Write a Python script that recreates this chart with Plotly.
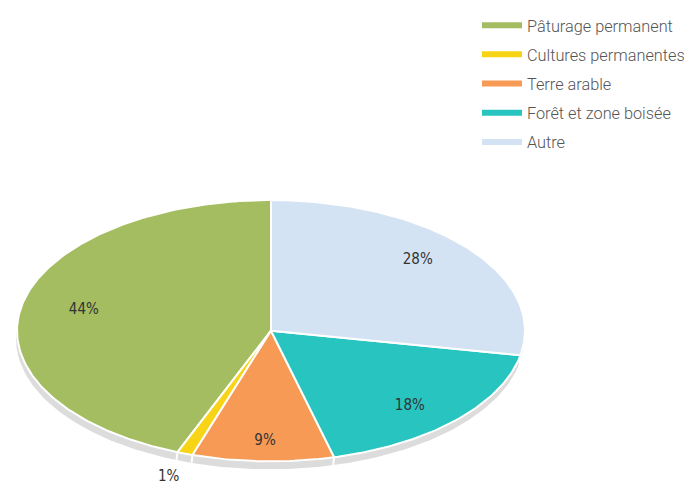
import numpy as np
import plotly.graph_objects as go

# ---- data ----
labels = ["Pâturage permanent", "Cultures permanentes", "Terre arable",
          "Forêt et zone boisée", "Autre"]
values = [44, 1, 9, 18, 28]
colors = ["#a4bd60", "#f7d516", "#f79a55", "#28c4c0", "#d4e3f3"]
text_labels = ["44%", "1%", "9%", "18%", "28%"]

# ---- geometry (pixel space of the window) ----
W, H = 692, 488
OFF = 8  # page body margin
CX, CY = 271, 329
RX, RY = 254, 132
DEPTH = 8
SHADOW = "#dcdcdc"
LBL_RX, LBL_RY = 0.75, 0.85   # inside label radius factors
LBL_OUT = 1.19                # outside label radius for tiny slices

total = float(sum(values))
fracs = np.cumsum([0] + values) / total


def pt(frac, r=1.0, cx=CX, cy=CY, ry=None):
    ry = r if ry is None else ry
    phi = np.pi / 2 + frac * 2 * np.pi  # counter-clockwise from top
    return cx + r * RX * np.cos(phi), cy - ry * RY * np.sin(phi)


fig = go.Figure()

# shadow / thickness
t = np.linspace(0, 1, 361)
sx, sy = pt(t, 1.0, CX - 1, CY + DEPTH)
fig.add_trace(go.Scatter(x=sx, y=sy, fill="toself", mode="lines",
                         line=dict(color=SHADOW, width=0), fillcolor=SHADOW,
                         showlegend=False, hoverinfo="skip"))
# white separators in the thickness
for f in fracs[1:-1]:
    bx, by = pt(f)
    if by > CY:
        fig.add_trace(go.Scatter(x=[bx, bx - 1], y=[by, by + DEPTH], mode="lines",
                                 line=dict(color="white", width=2),
                                 showlegend=False, hoverinfo="skip"))

# slices
for i, (lab, col) in enumerate(zip(labels, colors)):
    a0, a1 = fracs[i], fracs[i + 1]
    n = max(int((a1 - a0) * 400), 4)
    tt = np.linspace(a0, a1, n)
    ex, ey = pt(tt)
    xs = np.concatenate([[CX], ex, [CX]])
    ys = np.concatenate([[CY], ey, [CY]])
    fig.add_trace(go.Scatter(x=xs, y=ys, fill="toself", mode="lines",
                             line=dict(color="white", width=2), fillcolor=col,
                             name=lab, showlegend=False, legendgroup=lab,
                             hoverinfo="name"))

# slice labels
for i, txt in enumerate(text_labels):
    mid = (fracs[i] + fracs[i + 1]) / 2
    if values[i] >= 5:
        lx, ly = pt(mid, LBL_RX, ry=LBL_RY)
    else:
        lx, ly = pt(mid, LBL_OUT)
    fig.add_trace(go.Scatter(x=[lx], y=[ly], mode="text", text=[txt],
                             textfont=dict(family="DejaVu Sans Condensed, Liberation Sans Narrow, Arial Narrow, sans-serif",
                                           size=15, color="#333333"),
                             showlegend=False, hoverinfo="skip"))

# legend entries
for lab, col in zip(labels, colors):
    fig.add_trace(go.Scatter(x=[None], y=[None], mode="lines",
                             line=dict(color=col, width=6), name=lab,
                             legendgroup=lab, showlegend=True))

fig.update_layout(
    width=W, height=H,
    margin=dict(l=0, r=0, t=0, b=0),
    paper_bgcolor="white", plot_bgcolor="white",
    xaxis=dict(range=[OFF, W + OFF], visible=False, fixedrange=True),
    yaxis=dict(range=[H + OFF, OFF], visible=False, fixedrange=True),
    legend=dict(x=(477 - OFF) / W, y=1 - (3 - OFF) / H, xanchor="left", yanchor="top",
                font=dict(family="Roboto, Lato, sans-serif", size=16.3, color="#555555",
                          weight=300),
                traceorder="grouped", tracegroupgap=5, itemwidth=40,
                bgcolor="rgba(0,0,0,0)"),
    showlegend=True,
)

fig.write_html("out.html")
